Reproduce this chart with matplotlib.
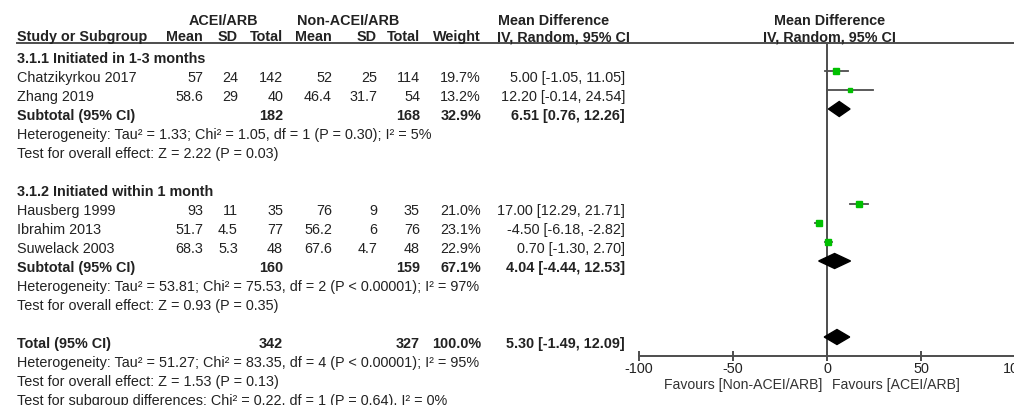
import matplotlib
matplotlib.use('Agg')
import matplotlib.pyplot as plt
from matplotlib.patches import Polygon

plt.rcParams['font.family'] = ['Liberation Sans', 'DejaVu Sans']

# ---- data ----
studies = ['Chatzikyrkou 2017', 'Zhang 2019', 'Hausberg 1999', 'Ibrahim 2013', 'Suwelack 2003']
e_mean = [57, 58.6, 93, 51.7, 68.3]
e_sd = [24, 29, 11, 4.5, 5.3]
e_n = [142, 40, 35, 77, 48]
c_mean = [52, 46.4, 76, 56.2, 67.6]
c_sd = [25, 31.7, 9, 6, 4.7]
c_n = [114, 54, 35, 76, 48]
weight = [19.7, 13.2, 21.0, 23.1, 22.9]
md = [5.00, 12.20, 17.00, -4.50, 0.70]
md_lo = [-1.05, -0.14, 12.29, -6.18, -1.30]
md_hi = [11.05, 24.54, 21.71, -2.82, 2.70]

sub_names = ['3.1.1 Initiated in 1-3 months', '3.1.2 Initiated within 1 month']
sub_members = [[0, 1], [2, 3, 4]]
sub_e_n = [182, 160]
sub_c_n = [168, 159]
sub_w = [32.9, 67.1]
sub_md = [6.51, 4.04]
sub_lo = [0.76, -4.44]
sub_hi = [12.26, 12.53]
sub_het = ['Heterogeneity: Tau² = 1.33; Chi² = 1.05, df = 1 (P = 0.30); I² = 5%',
           'Heterogeneity: Tau² = 53.81; Chi² = 75.53, df = 2 (P < 0.00001); I² = 97%']
sub_z = ['Test for overall effect: Z = 2.22 (P = 0.03)',
         'Test for overall effect: Z = 0.93 (P = 0.35)']

tot_e_n, tot_c_n, tot_w = 342, 327, 100.0
tot_md, tot_lo, tot_hi = 5.30, -1.49, 12.09
tot_notes = ['Heterogeneity: Tau² = 51.27; Chi² = 83.35, df = 4 (P < 0.00001); I² = 95%',
             'Test for overall effect: Z = 1.53 (P = 0.13)',
             'Test for subgroup differences: Chi² = 0.22, df = 1 (P = 0.64), I² = 0%']

xticks = [-100, -50, 0, 50, 100]
fav_left, fav_right = 'Favours [Non-ACEI/ARB]', 'Favours [ACEI/ARB]'

# ---- layout (pixel coords, y downwards) ----
W, H = 1014, 405
FS = 10.4
TXT = '#222222'
GREEN = '#00c000'
LINE = '#4d4d4d'
Y0, PITCH, MOFF = 63, 19, 11          # baseline of first body row, row pitch, marker offset above baseline
COL = dict(name=17, e_mean=203, e_sd=238, e_n=283, c_mean=332, c_sd=377, c_n=420, w=481, ci=625)
X0PIX, SCALE = 827, 1.88              # pixel of 0 and px per unit on the forest axis

fig = plt.figure(figsize=(W / 100, H / 100), dpi=100)
tab = fig.add_axes([0, 0, 1, 1])
tab.set_xlim(0, W); tab.set_ylim(H, 0); tab.axis('off')

left_px = X0PIX - 100 * SCALE
fa = fig.add_axes([left_px / W, 0, 200 * SCALE / W, 1])
fa.set_xlim(-100, 100); fa.set_ylim(H, 0)
fa.patch.set_alpha(0)
for s in ('top', 'left', 'right'):
    fa.spines[s].set_visible(False)
fa.spines['bottom'].set_position(('data', 356))
fa.spines['bottom'].set_color(LINE); fa.spines['bottom'].set_linewidth(1.4)
fa.set_yticks([])
fa.set_xticks(xticks)
fa.set_xticklabels([str(t) for t in xticks])
fa.tick_params(axis='x', direction='inout', length=7, width=1.4, color=LINE,
               labelsize=FS, labelcolor=TXT, pad=1)


def t(x, y, s, ha='left', bold=False, size=FS):
    tab.text(x, y, s, ha=ha, va='baseline', fontsize=size, color=TXT,
             fontweight='bold' if bold else 'normal')


def fmt(v):
    return f'{v:g}'


def ci_txt(m, lo, hi):
    return f'{m:.2f} [{lo:.2f}, {hi:.2f}]'


def diamond(m, lo, hi, y):
    fa.add_patch(Polygon([(lo, y), (m, y - 7.5), (hi, y), (m, y + 7.5)],
                         closed=True, color='black', zorder=4))


# headers
t(223, 25, 'ACEI/ARB', ha='center', bold=True)
t(348, 25, 'Non-ACEI/ARB', ha='center', bold=True)
t(498, 25, 'Mean Difference', bold=True)
t(COL['name'], 41, 'Study or Subgroup', bold=True)
for key, lab in [('e_mean', 'Mean'), ('e_sd', 'SD'), ('e_n', 'Total'),
                 ('c_mean', 'Mean'), ('c_sd', 'SD'), ('c_n', 'Total'), ('w', 'Weight')]:
    t(COL[key], 41, lab, ha='right', bold=True)
t(497, 41, 'IV, Random, 95% CI', bold=True)
fa.text(1.5, 25, 'Mean Difference', ha='center', va='baseline', fontsize=FS,
        fontweight='bold', color=TXT)
fa.text(1.5, 41, 'IV, Random, 95% CI', ha='center', va='baseline', fontsize=FS,
        fontweight='bold', color=TXT)
tab.plot([COL['name'], W], [43, 43], color=LINE, lw=1.4)

# body
row = 0
for g, members in enumerate(sub_members):
    t(COL['name'], Y0 + row * PITCH, sub_names[g], bold=True)
    row += 1
    for i in members:
        yb = Y0 + row * PITCH
        t(COL['name'], yb, studies[i])
        t(COL['e_mean'], yb, fmt(e_mean[i]), ha='right')
        t(COL['e_sd'], yb, fmt(e_sd[i]), ha='right')
        t(COL['e_n'], yb, str(e_n[i]), ha='right')
        t(COL['c_mean'], yb, fmt(c_mean[i]), ha='right')
        t(COL['c_sd'], yb, fmt(c_sd[i]), ha='right')
        t(COL['c_n'], yb, str(c_n[i]), ha='right')
        t(COL['w'], yb, f'{weight[i]:.1f}%', ha='right')
        t(COL['ci'], yb, ci_txt(md[i], md_lo[i], md_hi[i]), ha='right')
        ym = yb - MOFF
        fa.plot([md_lo[i], md_hi[i]], [ym, ym], color=LINE, lw=1.3, zorder=2)
        fa.plot(md[i], ym, marker='s', ms=0.99 * weight[i] ** 0.5, color=GREEN,
                mec=GREEN, zorder=3)
        row += 1
    yb = Y0 + row * PITCH
    t(COL['name'], yb, 'Subtotal (95% CI)', bold=True)
    t(COL['e_n'], yb, str(sub_e_n[g]), ha='right', bold=True)
    t(COL['c_n'], yb, str(sub_c_n[g]), ha='right', bold=True)
    t(COL['w'], yb, f'{sub_w[g]:.1f}%', ha='right', bold=True)
    t(COL['ci'], yb, ci_txt(sub_md[g], sub_lo[g], sub_hi[g]), ha='right', bold=True)
    diamond(sub_md[g], sub_lo[g], sub_hi[g], yb - MOFF)
    row += 1
    t(COL['name'], Y0 + row * PITCH, sub_het[g]); row += 1
    t(COL['name'], Y0 + row * PITCH, sub_z[g]); row += 1
    row += 1

yb = Y0 + row * PITCH
t(COL['name'], yb, 'Total (95% CI)', bold=True)
t(COL['e_n'], yb, str(tot_e_n), ha='right', bold=True)
t(COL['c_n'], yb, str(tot_c_n), ha='right', bold=True)
t(COL['w'], yb, f'{tot_w:.1f}%', ha='right', bold=True)
t(COL['ci'], yb, ci_txt(tot_md, tot_lo, tot_hi), ha='right', bold=True)
diamond(tot_md, tot_lo, tot_hi, yb - MOFF)
row += 1
for note in tot_notes:
    t(COL['name'], Y0 + row * PITCH, note)
    row += 1

# line of no effect
fa.plot([0, 0], [43, 356], color=LINE, lw=1.4, zorder=1)
fa.text(-2.2, 389, fav_left, ha='right', va='baseline', fontsize=FS - 0.3, color='#333333')
fa.text(2.6, 389, fav_right, ha='left', va='baseline', fontsize=FS - 0.3, color='#333333')

fig.savefig('out.png', dpi=100)
